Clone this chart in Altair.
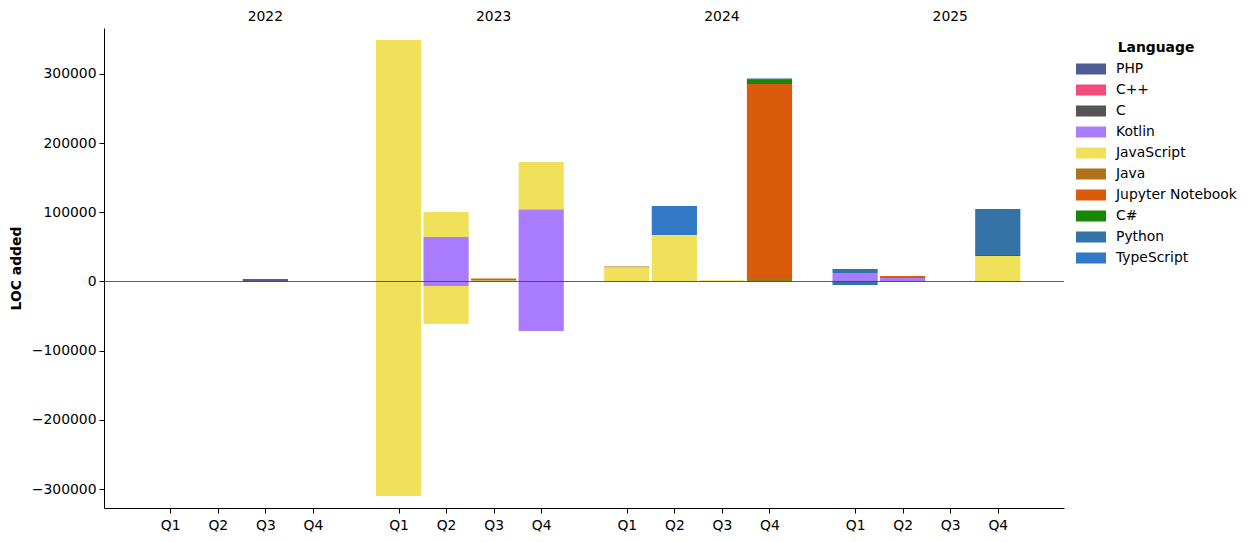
import altair as alt
import pandas as pd

years = ["2022", "2023", "2024", "2025"]
quarters = ["Q1", "Q2", "Q3", "Q4"]
languages = ["PHP", "C++", "C", "Kotlin", "JavaScript", "Java",
             "Jupyter Notebook", "C#", "Python", "TypeScript"]
colors = ["#4F5D95", "#f34b7d", "#555555", "#A97BFF", "#f1e05a", "#b07219",
          "#DA5B0B", "#178600", "#3572A5", "#3178c6"]

# 16 quarters: 2022Q1 .. 2025Q4
added = {
    "PHP":              [0, 0, 3500, 0,   0, 0, 0, 0,   0, 0, 0, 0,   0, 0, 0, 0],
    "C++":              [0, 0, 0, 0,      0, 0, 0, 0,   0, 0, 0, 0,   0, 0, 0, 0],
    "C":                [0, 0, 0, 0,      0, 0, 0, 0,   0, 0, 0, 0,   0, 0, 0, 0],
    "Kotlin":           [0, 0, 0, 0,      0, 64300, 0, 104300,   0, 0, 0, 0,   12300, 5000, 0, 0],
    "JavaScript":       [0, 0, 0, 0,      349000, 36100, 1500, 68300,   20500, 67200, 1800, 0,   0, 0, 0, 36800],
    "Java":             [0, 0, 0, 0,      0, 0, 3000, 0,   1000, 0, 0, 5000,   0, 0, 0, 0],
    "Jupyter Notebook": [0, 0, 0, 0,      0, 0, 0, 0,   0, 0, 0, 280400,   0, 2800, 0, 0],
    "C#":               [0, 0, 0, 0,      0, 0, 0, 0,   0, 0, 0, 5800,   0, 0, 0, 1400],
    "Python":           [0, 0, 0, 0,      0, 0, 0, 0,   0, 0, 0, 2000,   5800, 0, 0, 66600],
    "TypeScript":       [0, 0, 0, 0,      0, 0, 0, 0,   0, 41900, 0, 0,   0, 0, 0, 0],
}
removed = {
    "Kotlin":     [0, 0, 0, 0,   0, -6500, 0, -71700,   0, 0, 0, 0,   0, 0, 0, 0],
    "JavaScript": [0, 0, 0, 0,   -310000, -54900, 0, 0,   0, 0, 0, 0,   0, 0, 0, 0],
    "Python":     [0, 0, 0, 0,   0, 0, 0, 0,   0, 0, 0, 0,   -5000, 0, 0, 0],
}

rows = []
for series in (added, removed):
    for lang, vals in series.items():
        for i, v in enumerate(vals):
            if v != 0:
                rows.append({"year": years[i // 4], "quarter": quarters[i % 4],
                             "yi": i // 4, "qi": i % 4, "language": lang,
                             "order": languages.index(lang), "value": v})
df = pd.DataFrame(rows)

FS = 13.9
tick_pos = [yi * 4.8 + qi for yi in range(len(years)) for qi in range(len(quarters))]
xscale = alt.Scale(domain=[-1.3925, 18.7925], nice=False, zero=False)
yscale = alt.Scale(domain=[-327300, 366300], nice=False, zero=False)

bars = (
    alt.Chart(df)
    .transform_calculate(pos="datum.yi*4.8+datum.qi", key="datum.yi*4+datum.qi")
    .transform_stack(stack="value", groupby=["key"], as_=["y0", "y1"],
                     sort=[alt.SortField("order")], offset="zero")
    .transform_calculate(xa="datum.pos-0.475", xb="datum.pos+0.475")
    .mark_bar()
    .encode(
        x=alt.X("xa:Q", scale=xscale,
                axis=alt.Axis(title=None, values=tick_pos,
                              labelExpr="'Q' + (round(datum.value*10) % 48 / 10 + 1)",
                              tickSize=5, labelPadding=5)),
        x2="xb:Q",
        y=alt.Y("y0:Q", scale=yscale,
                axis=alt.Axis(title="LOC added", values=list(range(-300000, 300001, 100000)),
                              format="d", tickSize=5, labelPadding=3,
                              titleFontWeight="bold", titlePadding=8)),
        y2="y1:Q",
        color=alt.Color("language:N", scale=alt.Scale(domain=languages, range=colors),
                        legend=alt.Legend(title="Language", orient="none",
                                          legendX=972, legendY=13,
                                          symbolType="M-1,-0.367L1,-0.367L1,0.367L-1,0.367Z",
                                          symbolSize=900, symbolStrokeWidth=0,
                                          symbolOpacity=1, clipHeight=14,
                                          titleFontWeight="bold", titleAnchor="middle",
                                          titleFontSize=FS, labelFontSize=FS,
                                          titlePadding=7,
                                          rowPadding=7, labelOffset=10)),
    )
)

zero = alt.Chart(pd.DataFrame({"y": [0]})).mark_rule(color="#333333", strokeWidth=0.8).encode(y="y:Q")

year_df = pd.DataFrame({"year": years, "yi": list(range(len(years)))})
year_text = (
    alt.Chart(year_df)
    .transform_calculate(pos="datum.yi*4.8+2")
    .mark_text(fontSize=FS, baseline="middle", font="DejaVu Sans", color="black")
    .encode(x="pos:Q", y=alt.value(-11), text="year:N")
)

chart = (
    alt.layer(bars, zero, year_text)
    .properties(width=960, height=480,
                padding={"left": 96, "top": 20, "right": 176, "bottom": 24},
                autosize=alt.AutoSizeParams(type="none"))
    .configure_view(stroke=None)
    .configure_axis(grid=False, domainColor="black", tickColor="black",
                    labelColor="black", titleColor="black",
                    labelFont="DejaVu Sans", titleFont="DejaVu Sans",
                    labelFontSize=FS, titleFontSize=FS, domainWidth=1)
    .configure_legend(labelFont="DejaVu Sans", titleFont="DejaVu Sans",
                      labelColor="black", titleColor="black")
)

chart.save("out.html", embed_options={"renderer": "svg", "actions": False})
